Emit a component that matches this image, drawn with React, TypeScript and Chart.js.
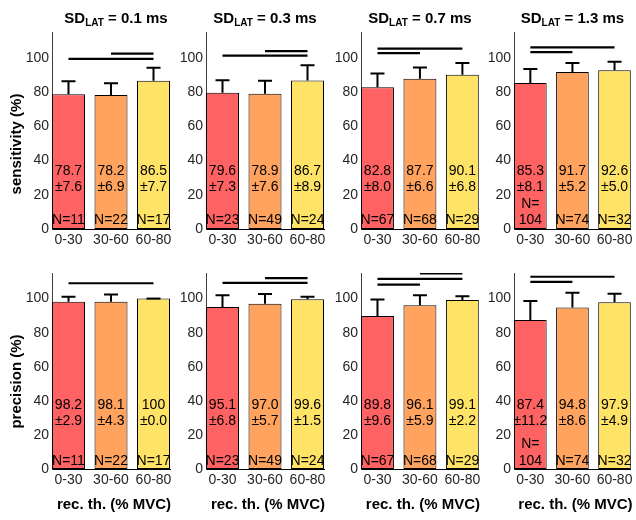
import React, { useEffect, useRef } from 'react';
import { Chart, registerables } from 'chart.js';

Chart.register(...registerables);

// ---------- data ----------
const categories = ['0-30', '30-60', '60-80'];
const sdLatValues = ['0.1', '0.3', '0.7', '1.3'];
const rowLabels = ['sensitivity (%)', 'precision (%)'];
const xAxisLabel = 'rec. th. (% MVC)';
const yTickValues = [0, 20, 40, 60, 80, 100];

const sensitivityMean = [
  [78.7, 78.2, 86.5],
  [79.6, 78.9, 86.7],
  [82.8, 87.7, 90.1],
  [85.3, 91.7, 92.6],
];
const sensitivitySD = [
  [7.6, 6.9, 7.7],
  [7.3, 7.6, 8.9],
  [8.0, 6.6, 6.8],
  [8.1, 5.2, 5.0],
];
const precisionMean = [
  [98.2, 98.1, 100],
  [95.1, 97.0, 99.6],
  [89.8, 96.1, 99.1],
  [87.4, 94.8, 97.9],
];
const precisionSD = [
  [2.9, 4.3, 0.0],
  [6.8, 5.7, 1.5],
  [9.6, 5.9, 2.2],
  [11.2, 8.6, 4.9],
];
const sampleCounts = [
  [11, 22, 17],
  [23, 49, 24],
  [67, 68, 29],
  [104, 74, 32],
];
// significance bars: [from category, to category, height]
const sensitivitySig = [
  [[1, 3, 99.3], [2, 3, 102.4]],
  [[1, 3, 101.2], [2, 3, 103.8]],
  [[1, 2, 102.7], [1, 3, 105.3]],
  [[1, 2, 103.3], [1, 3, 106.0]],
];
const precisionSig = [
  [[1, 3, 109.0]],
  [[1, 3, 109.2], [2, 3, 112.0]],
  [[1, 2, 108.2], [1, 3, 111.6], [2, 3, 114.8]],
  [[1, 2, 109.8], [1, 3, 112.8]],
];

// ---------- layout / style ----------
const barColors = ['#FF6262', '#FFA35F', '#FFE366'];
const FONT = '"Liberation Sans", Arial, Helvetica, sans-serif';
const cellLeft = [0, 176, 330, 484];
const cellRight = [176, 330, 484, 636];
const plotLeft = [52, 206, 361, 514];
const PLOT_W = 118;
const cellTop = [0, 250];
const cellBottom = [250, 520];
const plotTop = [32, 273];
const plotBottom = [229, 469];
const titleOffset = [5, 0, 0, 0];
const yLabelOffset = [13.5, 10.5];
const textPos = [
  { mean: 34, sd: 24.3, n: 5.4, n1: 14.8, n2: 4.9 },
  { mean: 37.7, sd: 27.9, n: 4.9, n1: 14.4, n2: 4.5 },
];
const BAR_FRAC = 0.776;

Chart.defaults.font.family = FONT;

function fmtMean(v: number) {
  return v === 100 ? '100' : v.toFixed(1);
}

function Panel({ row, col }: { row: number; col: number }) {
  const ref = useRef<HTMLCanvasElement>(null);
  const w = cellRight[col] - cellLeft[col];
  const h = cellBottom[row] - cellTop[row];

  useEffect(() => {
    const means = row === 0 ? sensitivityMean[col] : precisionMean[col];
    const sds = row === 0 ? sensitivitySD[col] : precisionSD[col];
    const ns = sampleCounts[col];
    const sig = row === 0 ? sensitivitySig[col] : precisionSig[col];
    const tp = textPos[row];

    const overlay = {
      id: 'overlay',
      afterDatasetsDraw(chart: any) {
        const { ctx, chartArea } = chart;
        const xs = chart.scales.x;
        const ys = chart.scales.y;
        ctx.save();
        // error bars
        ctx.strokeStyle = '#000';
        ctx.lineWidth = 2;
        ctx.lineCap = 'butt';
        means.forEach((m, i) => {
          const xc = xs.getPixelForValue(i + 1);
          const y0 = ys.getPixelForValue(m);
          const y1 = ys.getPixelForValue(m + sds[i]);
          ctx.beginPath();
          if (y0 - y1 > 0.5) {
            ctx.moveTo(xc, y0);
            ctx.lineTo(xc, y1);
          }
          ctx.moveTo(xc - 7, y1);
          ctx.lineTo(xc + 7, y1);
          ctx.stroke();
        });
        // labels inside bars
        ctx.fillStyle = '#000';
        ctx.font = `14px ${FONT}`;
        ctx.textAlign = 'center';
        ctx.textBaseline = 'middle';
        means.forEach((m, i) => {
          const xc = xs.getPixelForValue(i + 1);
          ctx.fillText(fmtMean(m), xc, ys.getPixelForValue(tp.mean));
          ctx.fillText('\u00B1' + sds[i].toFixed(1), xc, ys.getPixelForValue(tp.sd));
          if (ns[i] >= 100) {
            ctx.fillText('N=', xc, ys.getPixelForValue(tp.n1));
            ctx.fillText(String(ns[i]), xc, ys.getPixelForValue(tp.n2));
          } else {
            ctx.fillText('N=' + ns[i], xc, ys.getPixelForValue(tp.n));
          }
        });
        const cx = (chartArea.left + chartArea.right) / 2;
        // panel title
        if (row === 0) {
          const big = `bold 15px ${FONT}`;
          const small = `bold 10px ${FONT}`;
          const p1 = 'SD';
          const p2 = 'LAT';
          const p3 = ' = ' + sdLatValues[col] + ' ms';
          ctx.font = big;
          const w1 = ctx.measureText(p1).width;
          const w3 = ctx.measureText(p3).width;
          ctx.font = small;
          const w2 = ctx.measureText(p2).width;
          const total = w1 + w2 + w3;
          let x0 = cx + titleOffset[col] - total / 2;
          const base = chartArea.top - 9.5;
          ctx.textAlign = 'left';
          ctx.textBaseline = 'alphabetic';
          ctx.font = big;
          ctx.fillText(p1, x0, base);
          x0 += w1;
          ctx.font = small;
          ctx.fillText(p2, x0, base + 3);
          x0 += w2;
          ctx.font = big;
          ctx.fillText(p3, x0, base);
        }
        // y-axis label
        if (col === 0) {
          ctx.save();
          ctx.translate(17, (chartArea.top + chartArea.bottom) / 2 + yLabelOffset[row]);
          ctx.rotate(-Math.PI / 2);
          ctx.font = `bold 15px ${FONT}`;
          ctx.textAlign = 'center';
          ctx.textBaseline = 'middle';
          ctx.fillStyle = '#000';
          ctx.fillText(rowLabels[row], 0, 0);
          ctx.restore();
        }
        // x-axis label
        if (row === 1) {
          ctx.font = `bold 15px ${FONT}`;
          ctx.textAlign = 'center';
          ctx.textBaseline = 'middle';
          ctx.fillText(xAxisLabel, cx + 3, chartArea.bottom + 36);
        }
        ctx.restore();
      },
    };

    const yAxisWidth = plotLeft[col] - cellLeft[col];
    const xAxisHeight = cellBottom[row] - plotBottom[row];

    const chart = new Chart(ref.current as HTMLCanvasElement, {
      type: 'bar',
      data: {
        datasets: [
          {
            type: 'bar',
            data: means.map((m, i) => ({ x: i + 1, y: m })),
            backgroundColor: barColors,
            borderColor: '#000',
            borderWidth: 1,
            borderSkipped: false,
            barPercentage: BAR_FRAC,
            categoryPercentage: 1,
            order: 2,
          } as any,
          ...sig.map(([a, b, yv]) => ({
            type: 'line',
            data: [
              { x: a, y: yv },
              { x: b, y: yv },
            ],
            borderColor: '#000',
            borderWidth: 2.2,
            pointRadius: 0,
            fill: false,
            order: 1,
          })) as any,
        ],
      },
      options: {
        responsive: false,
        animation: false,
        layout: {
          padding: {
            top: plotTop[row] - cellTop[row],
            right: cellRight[col] - (plotLeft[col] + PLOT_W),
            left: 0,
            bottom: 0,
          },
        },
        plugins: {
          legend: { display: false },
          tooltip: { enabled: false },
          title: { display: false },
        },
        scales: {
          x: {
            type: 'linear',
            offset: false,
            min: 1 - BAR_FRAC / 2,
            max: 3 + BAR_FRAC / 2,
            grid: { display: false, drawTicks: false, offset: false },
            border: { display: true, color: '#000', width: 1 },
            afterBuildTicks: (s: any) => {
              s.ticks = categories.map((_, i) => ({ value: i + 1 }));
            },
            afterFit: (s: any) => {
              s.height = xAxisHeight;
            },
            ticks: {
              autoSkip: false,
              maxRotation: 0,
              padding: 3,
              color: '#262626',
              font: { size: 14 },
              callback: (v: any) => categories[Math.round(Number(v)) - 1] ?? '',
            },
          },
          y: {
            min: 0,
            max: 115,
            grid: { display: false, drawTicks: false },
            border: { display: true, color: '#404040', width: 1 },
            afterBuildTicks: (s: any) => {
              s.ticks = yTickValues.map((v) => ({ value: v }));
            },
            afterFit: (s: any) => {
              s.width = yAxisWidth;
            },
            ticks: {
              padding: 3,
              color: '#262626',
              font: { size: 14 },
            },
          },
        },
      } as any,
      plugins: [overlay],
    });
    return () => chart.destroy();
  }, [row, col]);

  return (
    <div
      style={{
        position: 'absolute',
        left: cellLeft[col],
        top: cellTop[row],
        width: w,
        height: h,
      }}
    >
      <canvas ref={ref} width={w} height={h} style={{ width: w, height: h, display: 'block' }} />
    </div>
  );
}

export default function App() {
  const panels = [];
  for (let r = 0; r < 2; r++) {
    for (let c = 0; c < 4; c++) {
      panels.push(<Panel key={`${r}-${c}`} row={r} col={c} />);
    }
  }
  return (
    <div
      style={{
        position: 'fixed',
        left: 0,
        top: 0,
        width: 636,
        height: 520,
        background: '#fff',
        overflow: 'hidden',
      }}
    >
      {panels}
    </div>
  );
}
